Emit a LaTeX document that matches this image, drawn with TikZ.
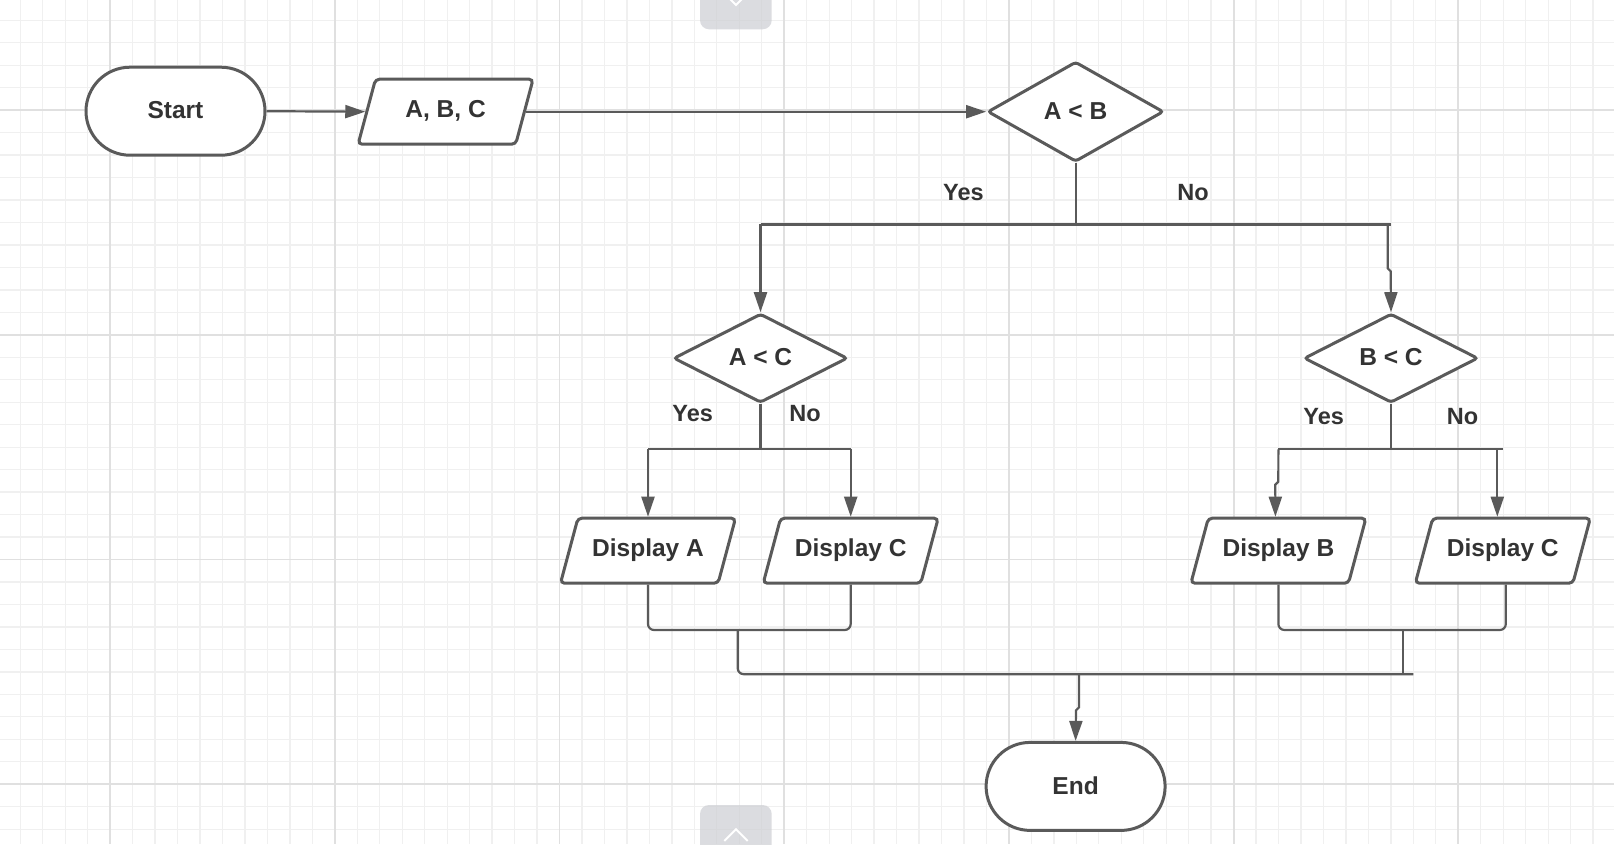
\documentclass[tikz,border=0pt]{standalone}
\usepackage{fontspec}
\setmainfont{Liberation Sans}
\usetikzlibrary{shapes.geometric,arrows.meta,calc}
\definecolor{ln}{HTML}{5A5A5A}
\definecolor{tx}{HTML}{333333}
\definecolor{gmin}{HTML}{F0F0F0}
\definecolor{gmaj}{HTML}{E0E0E0}
\definecolor{tabc}{HTML}{CDCED3}
\begin{document}
\begin{tikzpicture}[x=1pt,y=-1pt,
  every node/.style={font=\fontsize{24.5}{29}\selectfont\bfseries, text=tx},
  term/.style={draw=ln, line width=3pt, fill=white, rounded corners=44pt, minimum width=179pt, minimum height=88pt, inner sep=0pt},
  io/.style={draw=ln, line width=3pt, fill=white, trapezium, trapezium left angle=75, trapezium right angle=105, trapezium stretches body, minimum width=175pt, inner xsep=0pt, inner ysep=0pt, text height=38.7pt, text depth=26.3pt, rounded corners=4pt},
  dec/.style={draw=ln, line width=3pt, fill=white, diamond, minimum width=174pt, minimum height=89pt, rounded corners=3pt, inner sep=0pt},
  conn/.style={draw=ln, line width=2.2pt},
  arr/.style={conn, -{Triangle[length=20pt,width=13pt]}},
  lbl/.style={font=\fontsize{23.5}{28}\selectfont\bfseries},
  gridminor/.style={draw=gmin, line width=1.3pt},
  gridmajor/.style={draw=gmaj, line width=1.8pt},
  ]
\useasboundingbox (0,0) rectangle (1614,844);
\begin{scope}
\clip (0,0) rectangle (1614,844);
\fill[white] (0,0) rectangle (1614,844);
% grid
\foreach \k in {-5,...,67} \draw[gridminor] ({110.1+\k*22.47},0) -- ({110.1+\k*22.47},844);
\foreach \k in {-5,...,33} \draw[gridminor] (0,{110.1+\k*22.47}) -- (1614,{110.1+\k*22.47});
\foreach \k in {0,...,6} \draw[gridmajor] ({110.1+\k*224.7},0) -- ({110.1+\k*224.7},844);
\foreach \k in {0,...,3} \draw[gridmajor] (0,{110.1+\k*224.7}) -- (1614,{110.1+\k*224.7});

% nodes
\node[term] (start) at (175.5,111.2) {\raisebox{2pt}{Start}};
\node[io] (abc) at (445.6,111.7) {A, B, C};
\node[dec, minimum width=176pt, minimum height=100pt] (ab) at (1075.6,111.7) {\raisebox{2pt}{A < B}};
\node[dec] (ac) at (760.5,358.2) {\raisebox{2pt}{A < C}};
\node[dec] (bc) at (1391,358.2) {\raisebox{2pt}{B < C}};
\node[io] (da) at (648,550.7) {Display A};
\node[io] (dc1) at (850.7,550.7) {Display C};
\node[io] (db) at (1278.4,550.7) {Display B};
\node[io] (dc2) at (1502.8,550.7) {Display C};
\node[term] (end) at (1075.6,786.4) {\raisebox{2pt}{End}};

% labels
\node[lbl] (yes1) at (963.4,193) {Yes};
\node[lbl] (no1) at (1193,193) {No};
\node[lbl] (yes2) at (692.7,413.3) {Yes};
\node[lbl] (no2) at (805,413.3) {No};
\node[lbl] (yes3) at (1323.7,416.3) {Yes};
\node[lbl] (no3) at (1462.6,416.3) {No};

% junction coordinates
\coordinate (h1) at (1390.7,224.4);
\coordinate (k1) at (1387.7,268.3);
\coordinate (h2) at (0,449.3);
\coordinate (h3) at (1502.7,449.3);
\coordinate (k2) at (1278.3,481.7);
\coordinate (h4) at (0,630);
\coordinate (s1) at (737.7,630);
\coordinate (s2) at (1403.3,630);
\coordinate (h5) at (1413.3,674.2);
\coordinate (k3) at (1079,707.3);

% connectors
\draw[arr] (start.east) -- (abc.left side);
\draw[arr] (abc.right side) -- (ab.west);
\draw[conn] (ab.south) -- (ab.south |- h1);
\draw[conn] (ac.north |- h1) -- (h1);
\draw[arr] (ac.north |- h1) -- (ac.north);
\draw[arr] (k1 |- h1) -- (k1) -- ++(3,3) -- (bc.north);

\draw[conn] (ac.south) -- (ac.south |- h2);
\draw[conn] (da.center |- h2) -- (dc1.center |- h2);
\draw[arr] (da.center |- h2) -- (da.center |- da.top side);
\draw[arr] (dc1.center |- h2) -- (dc1.center |- dc1.top side);

\draw[conn] (bc.south) -- (bc.south |- h2);
\draw[conn] (db.center |- h2) -- (h3);
\draw[arr] (db.center |- h2) -- (k2) -- ++(-3,3) -- ($(db.center |- db.top side)+(-3,0)$);
\draw[arr] ($(dc2.center |- h2)+(-5.5,0)$) -- ($(dc2.center |- dc2.top side)+(-5.5,0)$);

\draw[conn, rounded corners=6pt] (da.center |- da.bottom side) -- (da.center |- h4) -- (dc1.center |- h4) -- (dc1.center |- dc1.bottom side);
\draw[conn, rounded corners=6pt] (db.center |- db.bottom side) -- (db.center |- h4) -- ($(dc2.center |- h4)+(3,0)$) -- ($(dc2.center |- dc2.bottom side)+(3,0)$);
\draw[conn, rounded corners=6pt] (s1) -- (s1 |- h5) -- (h5);
\draw[conn] (s2) -- (s2 |- h5);
\draw[arr] (k3 |- h5) -- (k3) -- ++(-3,3) -- (end.north);

% UI tabs
\fill[tabc, opacity=0.7, rounded corners=9pt] (700,-15) rectangle (771.7,29.3);
\draw[white, line width=2pt] (728,-3) -- (736,5) -- (744,-3);
\fill[tabc, opacity=0.7, rounded corners=9pt] (700,805) rectangle (771.7,870);
\draw[white, line width=2pt] (724.3,841) -- (736,829.3) -- (747.7,841);
\end{scope}
\end{tikzpicture}
\end{document}
